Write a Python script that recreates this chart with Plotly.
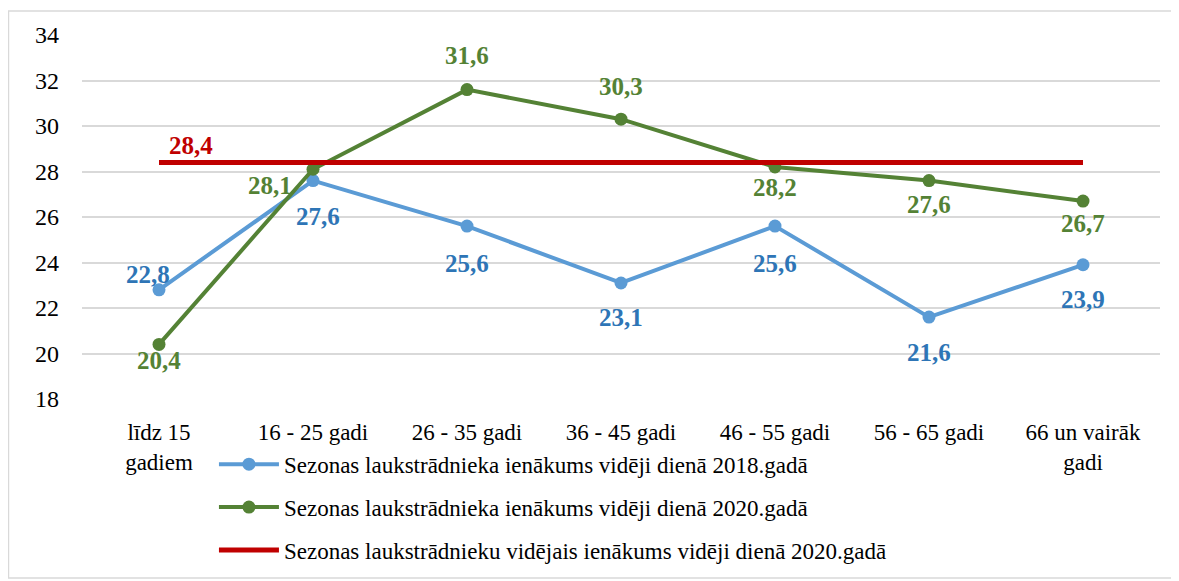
import plotly.graph_objects as go

categories = ["līdz 15<br>gadiem", "16 - 25 gadi", "26 - 35 gadi", "36 - 45 gadi",
              "46 - 55 gadi", "56 - 65 gadi", "66 un vairāk<br>gadi"]
income_2018 = [22.8, 27.6, 25.6, 23.1, 25.6, 21.6, 23.9]
income_2020 = [20.4, 28.1, 31.6, 30.3, 28.2, 27.6, 26.7]
avg_2020 = [28.4] * len(categories)

names = ["Sezonas laukstrādnieka ienākums vidēji dienā 2018.gadā",
         "Sezonas laukstrādnieka ienākums vidēji dienā 2020.gadā",
         "Sezonas laukstrādnieku vidējais ienākums vidēji dienā 2020.gadā"]

xs = list(range(len(categories)))
fmt = lambda v: f"{v:.1f}".replace(".", ",")
FONT = "serif"

# label offsets in pixels (dx, dy with dy positive = up)
off_2018 = [(-11, 15), (5, -36), (0, -37), (0, -35), (0, -37), (0, -35), (0, -35)]
off_2020 = [(0, -16), (-43, -16), (0, 34), (0, 33), (0, -21), (0, -24), (0, -22)]
off_avg = (32, 17)

BLUE, BLUE_TXT, GREEN, RED = "#5B9BD5", "#2E75B6", "#548235", "#C00000"

fig = go.Figure()
fig.add_trace(go.Scatter(
    x=xs, y=income_2018, name=names[0], legendgroup="a", mode="lines+markers",
    line=dict(color=BLUE, width=4), marker=dict(size=13, color=BLUE)))
fig.add_trace(go.Scatter(
    x=xs, y=income_2020, name=names[1], legendgroup="b", mode="lines+markers",
    line=dict(color=GREEN, width=4), marker=dict(size=13, color=GREEN)))
fig.add_trace(go.Scatter(
    x=xs, y=avg_2020, name=names[2], legendgroup="c", mode="lines",
    line=dict(color=RED, width=5)))

def label(x, y, off, color):
    fig.add_annotation(x=x, y=y, text=fmt(y), showarrow=False,
                       xshift=off[0], yshift=off[1], xanchor="center", yanchor="middle",
                       font=dict(family=FONT, size=25, color=color, weight="bold"))

for x, y, o in zip(xs, income_2018, off_2018):
    label(x, y, o, BLUE_TXT)
for x, y, o in zip(xs, income_2020, off_2020):
    label(x, y, o, GREEN)
label(xs[0], avg_2020[0], off_avg, RED)

fig.add_shape(type="rect", xref="paper", yref="paper",
              x0=-0.0682, x1=1.013, y0=-0.492, y1=1.066,
              line=dict(color="#D9D9D9", width=1.5), fillcolor="rgba(0,0,0,0)")

fig.update_layout(
    width=1179, height=581,
    margin=dict(l=74, r=27, t=27, b=190),
    paper_bgcolor="white", plot_bgcolor="white",
    font=dict(family=FONT, size=23, color="black"),
    showlegend=True,
    legend=dict(orientation="v", x=0.1224, xanchor="left", y=-0.12, yanchor="top",
                font=dict(family=FONT, size=23, color="black"),
                tracegroupgap=10, bgcolor="rgba(0,0,0,0)", itemwidth=60),
    xaxis=dict(range=[-0.5, len(categories) - 0.5], tickmode="array",
               tickvals=xs, ticktext=categories, showgrid=False, zeroline=False,
               showline=False, ticks="", ticklabelstandoff=17,
               tickfont=dict(family=FONT, size=23, color="black")),
    yaxis=dict(range=[18, 34], dtick=2, showgrid=True, gridcolor="#D9D9D9",
               gridwidth=1.5, zeroline=False, showline=False, ticks="",
               ticklabelstandoff=22,
               tickfont=dict(family=FONT, size=24, color="black")),
)

fig.write_html("out.html")
